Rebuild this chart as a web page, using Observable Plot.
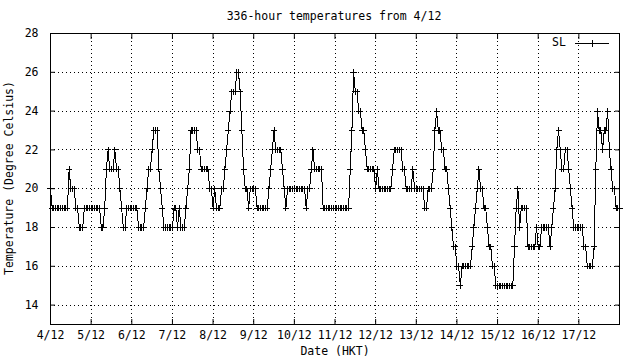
<!DOCTYPE html>
<html><head><meta charset="utf-8">
<script src="https://cdn.jsdelivr.net/npm/d3@7"></script>
<script src="https://cdn.jsdelivr.net/npm/@observablehq/plot@0.6"></script>
<style>
body{margin:0;background:#fff;}
#wrap{position:relative;width:640px;height:360px;font-family:"DejaVu Sans Mono",monospace;font-size:11.5px;color:#000;}
.t{position:absolute;white-space:nowrap;line-height:1;}
</style></head><body><div id="wrap"></div>
<script>
const title = "336-hour temperatures from 4/12";
const xLabel = "Date (HKT)";
const yLabel = "Temperature (Degree Celsius)";
const seriesName = "SL";
const dayLabels = ["4/12","5/12","6/12","7/12","8/12","9/12","10/12","11/12","12/12","13/12","14/12","15/12","16/12","17/12"];
const yTicks = [14,16,18,20,22,24,26,28];
// hourly temperatures (degrees C), one row per day starting 4/12 00:00
const day0  = [20,19,19,19,19,19,19,19,19,19,19,21,20,20,20,19,19,18,18,18,19,19,19,19];
const day1  = [19,19,19,19,19,19,18,18,19,21,22,21,21,21,22,21,21,20,19,18,18,19,19,19];
const day2  = [19,19,19,19,18,18,18,18,19,20,21,21,22,23,23,23,21,20,19,18,18,18,18,18];
const day3  = [18,19,19,18,19,18,18,18,19,20,21,23,23,23,23,22,22,21,21,21,21,21,20,20];
const day4  = [19,20,19,19,19,20,20,21,22,23,24,25,25,25,26,26,25,23,21,20,20,19,20,20];
const day5  = [20,20,19,19,19,19,19,19,19,20,21,22,23,22,22,22,22,21,20,19,20,20,20,20];
const day6  = [20,20,20,20,20,20,20,19,20,20,21,22,21,21,21,21,21,19,19,19,19,19,19,19];
const day7  = [19,19,19,19,19,19,19,19,19,21,23,26,25,25,24,24,23,23,22,21,21,21,21,21];
const day8  = [20,21,20,20,20,20,20,20,20,20,21,22,22,22,22,22,21,21,20,20,20,20,21,20];
const day9  = [20,20,20,20,20,19,19,20,20,20,21,23,24,23,23,22,22,21,21,20,19,18,17,17];
const day10 = [16,16,15,16,16,16,16,16,16,17,18,19,20,21,20,20,19,19,18,17,17,16,16,15];
const day11 = [15,15,15,15,15,15,15,15,15,15,17,19,20,18,19,19,19,19,17,17,17,17,17,18];
const day12 = [17,17,18,18,18,18,18,17,18,19,20,22,23,22,21,21,22,22,21,20,19,18,18,18];
const day13 = [18,18,18,17,17,16,16,16,16,17,21,24,23,23,22,23,23,24,22,21,20,20,19,19,19];

const temps = [].concat(day0,day1,day2,day3,day4,day5,day6,day7,day8,day9,day10,day11,day12,day13);
const data = temps.map((t,i)=>({hour:i, temp:t}));
const dayTicks = dayLabels.map((d,i)=>i*24);
const lastHour = dayLabels.length*24;
const fmtDay = d => dayLabels[Math.round(d/24)] ?? "";
const font = '"DejaVu Sans Mono", monospace';

const chart = Plot.plot({
  width:640, height:360,
  marginLeft:50, marginRight:21, marginTop:33, marginBottom:36,
  style:{fontFamily:font, fontSize:"11.5px", background:"white", color:"black"},
  x:{domain:[0,lastHour]},
  y:{domain:[13,28]},
  marks:[
    Plot.gridX(dayTicks.slice(1), {stroke:"black", strokeOpacity:1, strokeDasharray:"1,3", shapeRendering:"crispEdges"}),
    Plot.gridY(yTicks.slice(0,-1), {stroke:"black", strokeOpacity:1, strokeDasharray:"1,3", shapeRendering:"crispEdges"}),
    Plot.frame({stroke:"black", shapeRendering:"crispEdges"}),
    Plot.axisX(dayTicks, {anchor:"bottom", tickSize:-5, tickPadding:11, tickFormat:fmtDay, label:null}),
    Plot.axisX(dayTicks, {anchor:"top", tickSize:-5, tickFormat:()=>"", label:null}),
    Plot.axisY(yTicks, {anchor:"left", tickSize:-5, tickPadding:17, tickFormat:d=>String(d), label:null}),
    Plot.axisY(yTicks, {anchor:"right", tickSize:-5, tickFormat:()=>"", label:null}),
    Plot.line(data, {x:"hour", y:"temp", stroke:"black", strokeWidth:1, shapeRendering:"crispEdges"}),
    Plot.dot(data, {x:"hour", y:"temp", symbol:"plus", r:2.1, stroke:"black", strokeWidth:1, shapeRendering:"crispEdges"})
  ]
});
const wrap = document.getElementById("wrap");
wrap.appendChild(chart);

function addText(txt, css){
  const d = document.createElement("div");
  d.className = "t"; d.textContent = txt; d.style.cssText += css;
  wrap.appendChild(d); return d;
}
addText(title, "left:334px;top:17px;transform:translate(-50%,-50%);");
addText(xLabel, "left:335px;top:352px;transform:translate(-50%,-50%);");
addText(yLabel, "left:10px;top:178px;transform:translate(-50%,-50%) rotate(-90deg);");
// legend
const leg = document.createElement("div");
leg.className = "t";
leg.style.cssText += "left:552px;top:37px;display:flex;align-items:center;";
leg.innerHTML = `<span>${seriesName}</span><svg width="36" height="12" style="margin-left:9px" shape-rendering="crispEdges"><line x1="0" x2="34" y1="6.5" y2="6.5" stroke="black"/><line x1="17.5" x2="17.5" y1="3" y2="10" stroke="black"/><line x1="14" x2="21" y1="6.5" y2="6.5" stroke="black"/></svg>`;
wrap.appendChild(leg);
</script></body></html>
